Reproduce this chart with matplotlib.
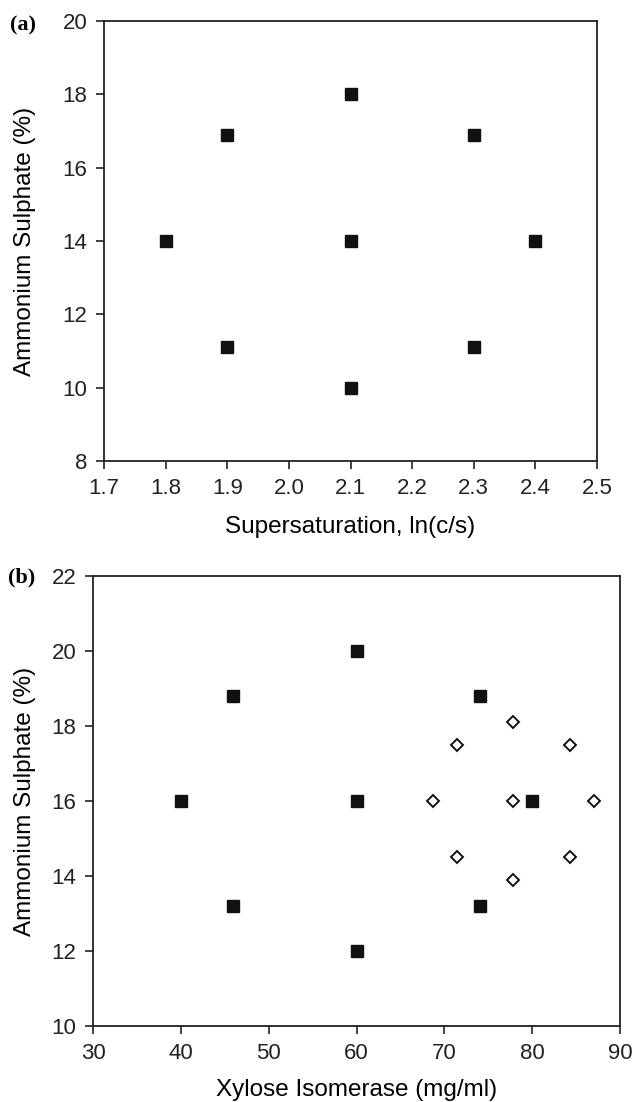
import matplotlib.pyplot as plt

plt.rcParams['font.family'] = ['Liberation Sans', 'DejaVu Sans']

# panel (a): supersaturation vs ammonium sulphate
a_x = [1.8, 1.9, 1.9, 2.1, 2.1, 2.1, 2.3, 2.3, 2.4]
a_y = [14.0, 16.9, 11.1, 18.0, 14.0, 10.0, 16.9, 11.1, 14.0]

# panel (b): xylose isomerase vs ammonium sulphate
b_filled_x = [40, 45.9, 45.9, 60, 60, 60, 74.1, 74.1, 80]
b_filled_y = [16.0, 18.8, 13.2, 20.0, 16.0, 12.0, 18.8, 13.2, 16.0]
b_open_x = [68.7, 71.4, 71.4, 77.8, 77.8, 77.8, 84.3, 84.3, 87.0]
b_open_y = [16.0, 17.5, 14.5, 18.1, 16.0, 13.9, 17.5, 14.5, 16.0]

W, H = 635, 1102
fig = plt.figure(figsize=(W / 100, H / 100), dpi=100)

def box(l, r, t, b):
    return [l / W, 1 - b / H, (r - l) / W, (b - t) / H]

ax1 = fig.add_axes(box(104, 597, 21, 461))
ax2 = fig.add_axes(box(93, 620, 576, 1026))

ax1.plot(a_x, a_y, 's', color='#111111', markersize=8, linestyle='none')
ax1.set_xlim(1.7, 2.5)
ax1.set_ylim(8, 20)
ax1.set_xticks([1.7, 1.8, 1.9, 2.0, 2.1, 2.2, 2.3, 2.4, 2.5])
ax1.set_xticklabels(['1.7', '1.8', '1.9', '2.0', '2.1', '2.2', '2.3', '2.4', '2.5'])
ax1.set_yticks(range(8, 21, 2))
ax1.set_xlabel('Supersaturation, ln(c/s)', fontsize=17.5, va='center')
ax1.set_ylabel('Ammonium Sulphate (%)', fontsize=17.5, va='center')
ax1.xaxis.set_label_coords(0.5, (461 - 527) / 440)
ax1.yaxis.set_label_coords((25 - 104) / 493, 0.5)

ax2.plot(b_filled_x, b_filled_y, 's', color='#111111', markersize=8, linestyle='none')
ax2.plot(b_open_x, b_open_y, 'D', markerfacecolor='white', markeredgecolor='#111111',
         markeredgewidth=1.4, markersize=6.2, linestyle='none')
ax2.set_xlim(30, 90)
ax2.set_ylim(10, 22)
ax2.set_xticks(range(30, 91, 10))
ax2.set_yticks(range(10, 23, 2))
ax2.set_xlabel('Xylose Isomerase (mg/ml)', fontsize=17.5, va='center')
ax2.set_ylabel('Ammonium Sulphate (%)', fontsize=17.5, va='center')
ax2.xaxis.set_label_coords(0.5, (1026 - 1090) / 450)
ax2.yaxis.set_label_coords((25 - 93) / 527, 0.5)

for ax in (ax1, ax2):
    ax.tick_params(direction='out', length=6, width=1.2, labelsize=16, pad=6, colors='#222222')
    for s in ax.spines.values():
        s.set_linewidth(1.3)
        s.set_color('#222222')

fig.text(23 / W, 1 - 25 / H, '(a)', family=['Liberation Serif', 'DejaVu Serif'],
         fontweight='bold', fontsize=16, ha='center', va='center')
fig.text(22 / W, 1 - 577 / H, '(b)', family=['Liberation Serif', 'DejaVu Serif'],
         fontweight='bold', fontsize=16, ha='center', va='center')

fig.savefig('out.png', dpi=100)
